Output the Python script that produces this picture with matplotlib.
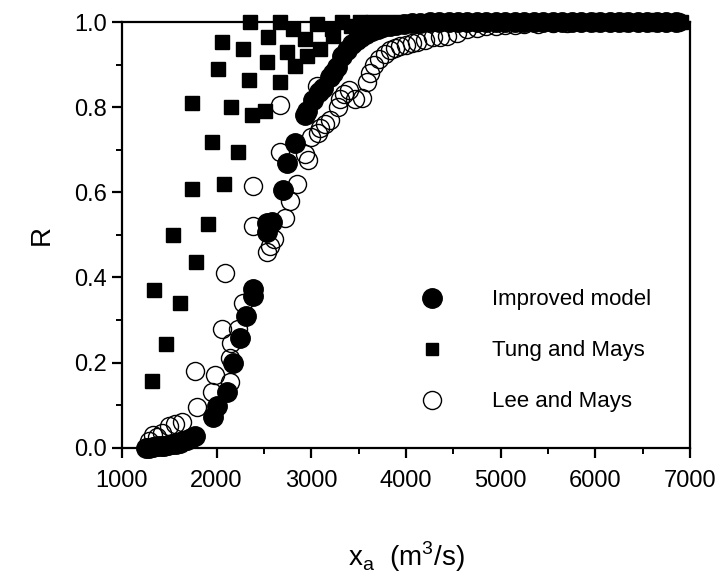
import matplotlib
matplotlib.use("Agg")
import matplotlib.pyplot as plt
from matplotlib.lines import Line2D
from matplotlib.ticker import MultipleLocator, FormatStrFormatter

plt.rcParams['font.family'] = ['Liberation Sans', 'DejaVu Sans']

# ---- data ----
improved_x = [1250, 1290, 1330, 1370, 1410, 1450, 1490, 1530, 1570, 1610, 1650, 1690, 1730, 1770,
              1960, 2000, 2110, 2170, 2250, 2310, 2380, 2385, 2530, 2535, 2585, 2700, 2740, 2830,
              2930, 2960, 3020, 3080, 3120, 3200, 3230, 3270, 3330, 3380, 3430, 3480, 3530, 3580,
              3640, 3700, 3760, 3830, 3900, 3980, 4060, 4150, 4250, 4350, 4450, 4550, 4650, 4750,
              4850, 4950, 5050, 5150, 5250, 5350, 5450, 5550, 5650, 5750, 5850, 5950, 6050, 6150,
              6250, 6350, 6450, 6550, 6650, 6750, 6850]
improved_y = [0.0, 0.0, 0.002, 0.003, 0.004, 0.005, 0.006, 0.008, 0.010, 0.012, 0.015, 0.018, 0.022, 0.027,
              0.073, 0.097, 0.132, 0.200, 0.258, 0.310, 0.357, 0.373, 0.506, 0.527, 0.530, 0.605, 0.670, 0.716,
              0.782, 0.790, 0.818, 0.835, 0.846, 0.870, 0.880, 0.894, 0.920, 0.935, 0.948, 0.958, 0.966, 0.973,
              0.979, 0.984, 0.988, 0.991, 0.994, 0.996, 0.997, 0.998, 0.999, 1.0, 1.0, 1.0, 1.0, 1.0,
              1.0, 1.0, 1.0, 1.0, 1.0, 1.0, 1.0, 1.0, 1.0, 1.0, 1.0, 1.0, 1.0, 1.0,
              1.0, 1.0, 1.0, 1.0, 1.0, 1.0, 1.0]

tung_x = [1317, 1338, 1465, 1538, 1612, 1739, 1739, 1781, 1908, 1950, 2014, 2056, 2077, 2151, 2225,
          2278, 2341, 2352, 2373, 2510, 2531, 2542, 2668, 2668, 2742, 2805, 2827, 2932, 2954, 3059,
          3090, 3217, 3228, 3323, 3420, 3520, 3650, 3800, 3950, 4100, 4250, 4400, 4550, 4700, 4850,
          5000, 5150, 5300, 5450, 5600, 5750, 5900, 6050, 6200, 6350, 6500, 6650, 6800, 6900]
tung_y = [0.157, 0.371, 0.243, 0.500, 0.340, 0.607, 0.810, 0.437, 0.525, 0.719, 0.890, 0.953, 0.619, 0.800, 0.695,
          0.936, 0.863, 1.0, 0.782, 0.790, 0.905, 0.965, 0.860, 1.0, 0.930, 0.983, 0.896, 0.960, 0.920, 0.995,
          0.936, 0.983, 0.967, 1.0, 0.990, 1.0, 1.0, 1.0, 1.0, 1.0, 1.0, 1.0, 1.0, 1.0, 1.0,
          1.0, 1.0, 1.0, 1.0, 1.0, 1.0, 1.0, 1.0, 1.0, 1.0, 1.0, 1.0, 1.0, 1.0]

lee_x = [1290, 1330, 1370, 1420, 1500, 1560, 1630, 1770, 1790, 1950, 1980, 2060, 2090, 2140, 2140,
         2150, 2225, 2280, 2380, 2380, 2530, 2560, 2610, 2670, 2670, 2720, 2775, 2850, 2930, 2965,
         3000, 3060, 3070, 3090, 3145, 3200, 3280, 3300, 3350, 3400, 3460, 3535, 3590, 3620, 3660,
         3720, 3780, 3830, 3880, 3940, 4000, 4060, 4120, 4200, 4290, 4360, 4430, 4540, 4640, 4750,
         4850, 4950, 5050, 5150, 5250, 5400, 5550, 5700, 5850, 6000, 6150, 6300, 6450, 6600, 6750, 6880]
lee_y = [0.015, 0.030, 0.025, 0.035, 0.050, 0.055, 0.060, 0.180, 0.095, 0.130, 0.170, 0.280, 0.410, 0.155, 0.210,
         0.245, 0.280, 0.340, 0.520, 0.615, 0.460, 0.475, 0.490, 0.695, 0.805, 0.540, 0.580, 0.620, 0.690, 0.675,
         0.730, 0.850, 0.740, 0.750, 0.760, 0.770, 0.800, 0.820, 0.830, 0.840, 0.820, 0.822, 0.860, 0.880, 0.900,
         0.913, 0.925, 0.935, 0.940, 0.943, 0.945, 0.950, 0.953, 0.958, 0.965, 0.966, 0.967, 0.975, 0.983, 0.985,
         0.990, 0.990, 0.992, 0.993, 0.995, 0.996, 0.997, 0.998, 0.999, 1.0, 1.0, 1.0, 1.0, 1.0, 1.0, 1.0]

labels = ["Improved model", "Tung and Mays", "Lee and Mays"]

fig = plt.figure(figsize=(7.21, 5.80), dpi=100)
ax = fig.add_axes([0.169, 0.228, 0.788, 0.734])

ax.plot(lee_x, lee_y, linestyle='none', marker='o', markersize=13, fillstyle='none',
        markeredgecolor='black', markeredgewidth=1.0, clip_on=False, zorder=3)
ax.plot(tung_x, tung_y, linestyle='none', marker='s', markersize=10.5, color='black',
        clip_on=False, zorder=4)
ax.plot(improved_x, improved_y, linestyle='none', marker='o', markersize=14, color='black',
        clip_on=False, zorder=5)

ax.set_xlim(1000, 7000)
ax.set_ylim(0.0, 1.0)
ax.xaxis.set_major_locator(MultipleLocator(1000))
ax.xaxis.set_minor_locator(MultipleLocator(500))
ax.yaxis.set_major_locator(MultipleLocator(0.2))
ax.yaxis.set_minor_locator(MultipleLocator(0.1))
ax.yaxis.set_major_formatter(FormatStrFormatter('%.1f'))

for s in ax.spines.values():
    s.set_linewidth(1.6)
ax.tick_params(which='major', direction='out', length=7, width=1.6, labelsize=17)
ax.tick_params(axis='x', which='major', pad=9)
ax.tick_params(axis='y', which='major', pad=4)
ax.tick_params(which='minor', direction='out', length=4, width=1.4)

ax.set_xlabel(r"x$_\mathregular{a}$  (m$^\mathregular{3}$/s)", fontsize=20, labelpad=34)
ax.set_ylabel("R", fontsize=20, labelpad=14)

handles = [
    Line2D([], [], linestyle='none', marker='o', markersize=14, color='black'),
    Line2D([], [], linestyle='none', marker='s', markersize=9, color='black'),
    Line2D([], [], linestyle='none', marker='o', markersize=13, fillstyle='none',
           markeredgecolor='black', markeredgewidth=1.0),
]
leg = ax.legend(handles, labels, loc='upper left', bbox_to_anchor=(0.569, 0.501),
                bbox_transform=fig.transFigure, frameon=False, fontsize=16,
                handlelength=2.0, handletextpad=1.7, labelspacing=1.35,
                borderpad=0, borderaxespad=0)

fig.savefig("out.png", dpi=100)
